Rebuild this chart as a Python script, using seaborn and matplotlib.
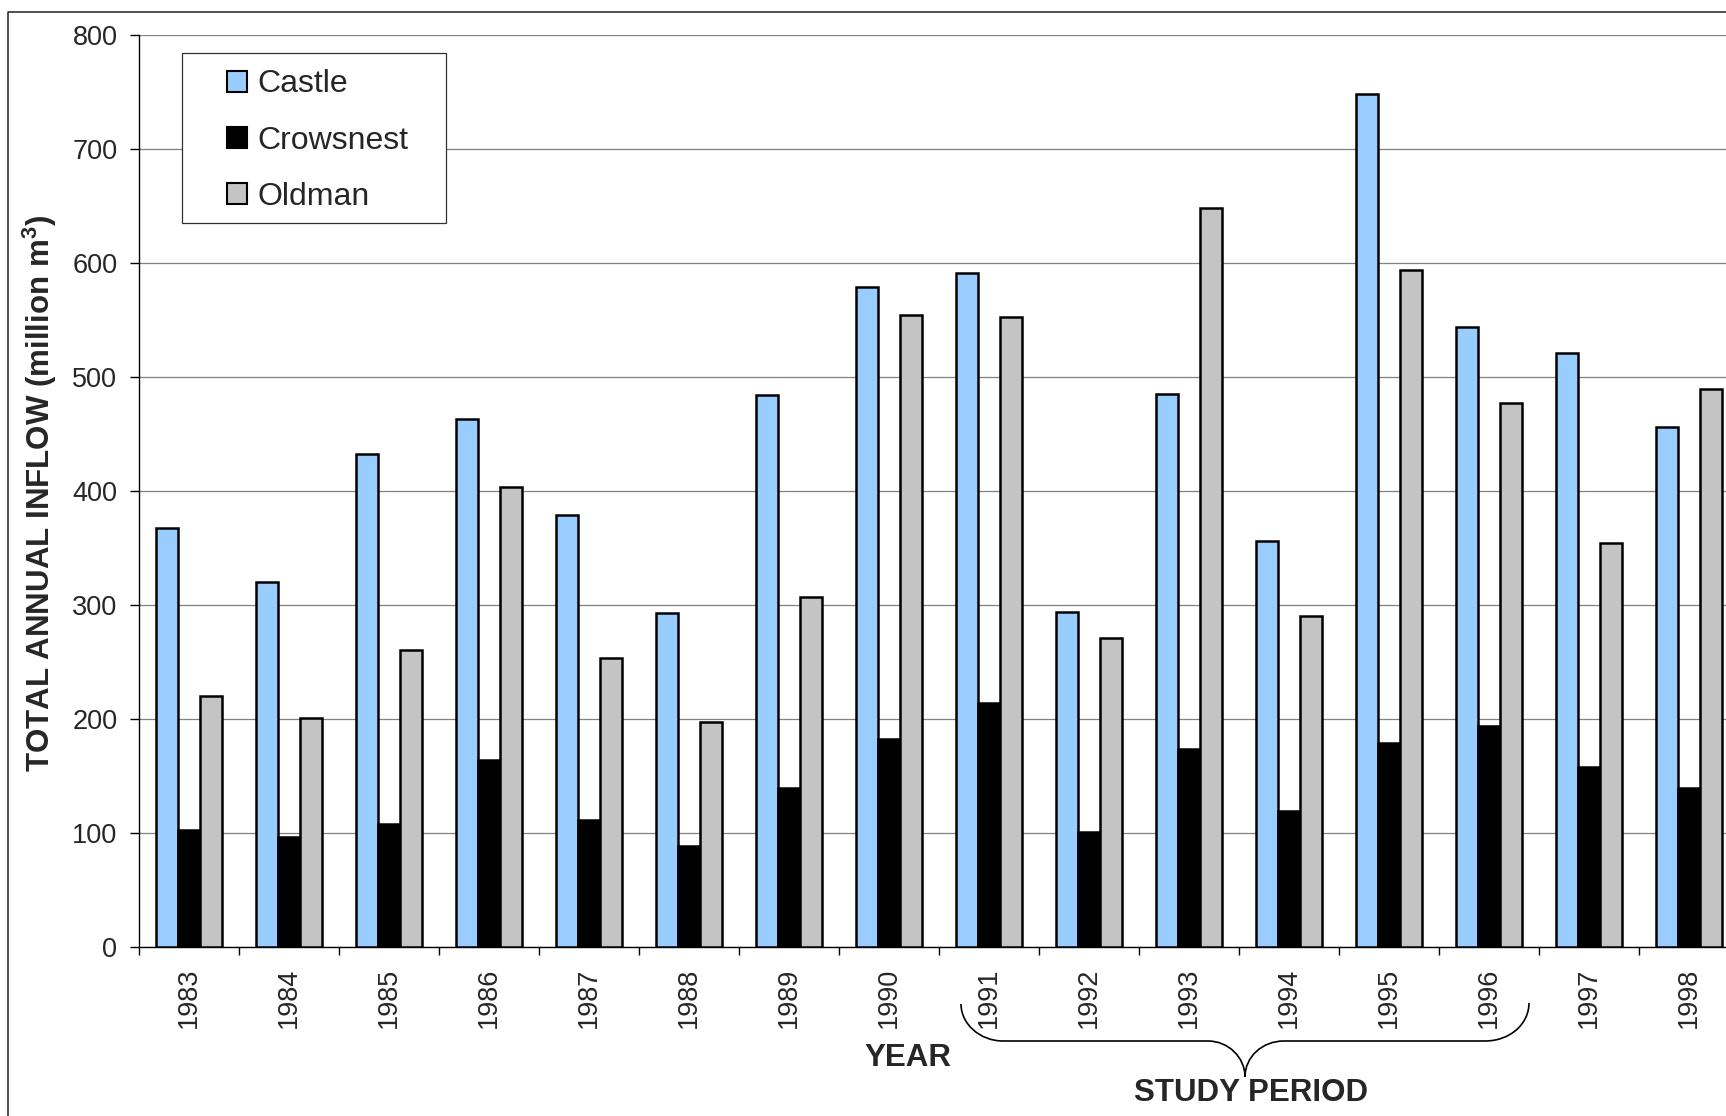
import numpy as np
import pandas as pd
import matplotlib
matplotlib.use("Agg")
import matplotlib.pyplot as plt
from matplotlib.patches import Patch, Rectangle, PathPatch
from matplotlib.path import Path
from matplotlib.lines import Line2D
import seaborn as sns

# Annual inflow (million m^3) per tributary
years = ["1983", "1984", "1985", "1986", "1987", "1988", "1989", "1990",
         "1991", "1992", "1993", "1994", "1995", "1996", "1997", "1998"]
castle = [367, 320, 432, 463, 379, 293, 484, 579, 591, 294, 485, 356, 748, 544, 521, 456]
crowsnest = [102, 96, 108, 164, 111, 88, 139, 182, 214, 101, 173, 119, 179, 194, 158, 139]
oldman = [220, 201, 260, 403, 253, 197, 307, 554, 552, 271, 648, 290, 594, 477, 354, 489]
rivers = ["Castle", "Crowsnest", "Oldman"]
colors = {"Castle": "#99CCFF", "Crowsnest": "#000000", "Oldman": "#C4C4C4"}
yticks = [0, 100, 200, 300, 400, 500, 600, 700, 800]

df = pd.DataFrame({
    "Year": years * 3,
    "River": [r for r in rivers for _ in years],
    "Inflow": castle + crowsnest + oldman,
})

sns.set_style("white")
plt.rcParams["font.family"] = ["Liberation Sans", "DejaVu Sans"]
plt.rcParams["mathtext.fontset"] = "custom"
plt.rcParams["mathtext.rm"] = "Liberation Sans"
plt.rcParams["mathtext.bf"] = "Liberation Sans:bold"

W, H = 1726, 1116
fig = plt.figure(figsize=(W / 100, H / 100), dpi=100)
fig.patch.set_facecolor("white")


def fx(x):
    return x / W


def fy(y):
    return 1 - y / H


# plot area runs past the right edge of the page
left_px, right_px, top_px, bottom_px = 138.7, 1738.7, 34.7, 946.7
ax = fig.add_axes([fx(left_px), fy(bottom_px), (right_px - left_px) / W,
                   (bottom_px - top_px) / H])
ax.set_facecolor("white")

sns.barplot(data=df, x="Year", y="Inflow", hue="River", order=years,
            hue_order=rivers, palette=colors, width=0.66, saturation=1,
            edgecolor="black", linewidth=1.8, errorbar=None, legend=False,
            ax=ax, zorder=3)

ax.set_xlim(-0.5, len(years) - 0.5)
ax.set_ylim(0, 800)
ax.set_yticks(yticks)
ax.set_yticklabels([str(t) for t in yticks], fontsize=19.5)
ax.yaxis.grid(True, color="#808080", linewidth=0.9, zorder=0)
ax.set_axisbelow(True)
ax.set_xlabel("")
ax.set_ylabel("")

ax.set_xticks(range(len(years)))
ax.set_xticklabels(years, rotation=90, fontsize=19.5)
ax.set_xticks(np.arange(-0.5, len(years), 1.0), minor=True)
ax.tick_params(axis="x", which="major", length=0, pad=15)
ax.tick_params(axis="x", which="minor", length=6, width=1, color="black",
               direction="out", bottom=True)
ax.tick_params(axis="y", length=6.3, width=1, color="black", direction="out",
               pad=9, left=True)

for side in ["top", "right"]:
    ax.spines[side].set_visible(False)
for side in ["left", "bottom"]:
    ax.spines[side].set_color("black")
    ax.spines[side].set_linewidth(1.0)

# legend with a square frame
frame = Rectangle((fx(181.7), fy(223)), (446 - 181.7) / W, (223 - 52.7) / H,
                  transform=fig.transFigure, facecolor="white",
                  edgecolor="#303030", linewidth=0.9, zorder=4, clip_on=False)
ax.add_artist(frame)
handles = [Patch(facecolor=colors[r], edgecolor="black", linewidth=1.5)
           for r in rivers]
leg = ax.legend(handles, rivers, loc="upper left",
                bbox_to_anchor=(fx(226.7), fy(69.5)),
                bbox_transform=fig.transFigure, frameon=False, fontsize=23,
                borderpad=0, borderaxespad=0, handlelength=0.65,
                handleheight=0.65, handletextpad=0.3, labelspacing=0.82)
leg.set_zorder(5)

# axis titles
fig.text(fx(40), fy(493), r"TOTAL ANNUAL INFLOW (million $\mathbf{m^3}$)",
         rotation=90, ha="center", va="center", fontsize=22.5,
         fontweight="bold")
fig.text(fx(907.5), fy(1058), "YEAR", ha="center", va="center",
         fontsize=22.5, fontweight="bold")
fig.text(fx(1251), fy(1092.7), "STUDY PERIOD", ha="center", va="center",
         fontsize=22.5, fontweight="bold")

# curly brace under the study period years
pts = [
    (961, 1004), (961, 1024), (980, 1041), (1003, 1041),
    (1208, 1041), (1228, 1041), (1245, 1057), (1245, 1077),
    (1245, 1057), (1262, 1041), (1284, 1041),
    (1485, 1041), (1510, 1041), (1529, 1024), (1529, 1003),
]
codes = [Path.MOVETO, Path.CURVE4, Path.CURVE4, Path.CURVE4,
         Path.LINETO, Path.CURVE4, Path.CURVE4, Path.CURVE4,
         Path.CURVE4, Path.CURVE4, Path.CURVE4,
         Path.LINETO, Path.CURVE4, Path.CURVE4, Path.CURVE4]
brace = Path([(fx(x), fy(y)) for x, y in pts], codes)
fig.add_artist(PathPatch(brace, transform=fig.transFigure, fill=False,
                         edgecolor="black", linewidth=1.2))

# chart area border (left and top edges visible)
fig.add_artist(Line2D([fx(8.3), fx(8.3), fx(1740)], [fy(1130), fy(12), fy(12)],
                      transform=fig.transFigure, color="#202020",
                      linewidth=1.1))

fig.savefig("out.png", dpi=100, facecolor="white")
